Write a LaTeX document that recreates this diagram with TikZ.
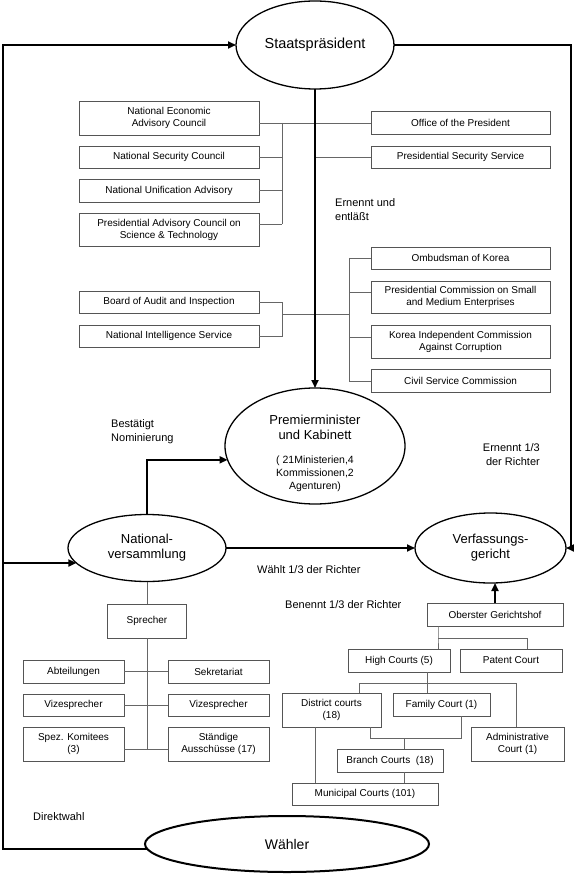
\documentclass[tikz,border=0pt]{standalone}
\usepackage{fontspec}
\setmainfont{Liberation Sans}
\usetikzlibrary{shapes.geometric,arrows.meta}
\definecolor{boxgray}{HTML}{555555}
\definecolor{linegray}{HTML}{666666}
\begin{document}
\begin{tikzpicture}[x=1pt,y=-1pt,
  box/.style={draw=boxgray,line width=0.7pt,align=center,inner sep=0pt,outer sep=0pt,font=\fontsize{10}{12}\selectfont},
  oval/.style={ellipse,draw=black,line width=1.3pt,align=center,inner sep=0pt,outer sep=0pt,font=\fontsize{13}{15}\selectfont},
  conn/.style={draw=linegray,line width=0.7pt},
  mainarrow/.style={draw=black,line width=1.8pt,-{Triangle[length=8pt,width=7pt]}},
  lbl/.style={font=\fontsize{11}{13.5}\selectfont,align=left,inner sep=0pt}
]
\useasboundingbox[fill=white] (0,0) rectangle (573,874);

% ellipses
\node[oval,minimum width=158pt,minimum height=88pt,font=\fontsize{14.5}{17}\selectfont] (sp) at (315,45) {Staatspräsident};
\node[oval,minimum width=180pt,minimum height=116pt] (pm) at (315,446) {};
\node[inner sep=0pt,align=center,font=\fontsize{13}{15}\selectfont] (pmtitle) at (315,427.5) {Premierminister\\und Kabinett};
\node[inner sep=0pt,align=center,font=\fontsize{10.5}{13}\selectfont] (pmsub) at (315,474) {( 21Ministerien,4\\Kommissionen,2\\Agenturen)};
\node[oval,minimum width=158pt,minimum height=67pt] (nat) at (147,548) {National-\\versammlung};
\node[oval,minimum width=151pt,minimum height=70pt] (vg) at (490.5,548) {Verfassungs-\\gericht};
\node[oval,line width=2pt,minimum width=284pt,minimum height=56pt,font=\fontsize{14}{17}\selectfont] (wa) at (287,844) {Wähler};

% left boxes (top)
\node[box,minimum width=180pt,minimum height=34pt] (neac) at (169,118) {National Economic\\Advisory Council};
\node[box,minimum width=180pt,minimum height=22pt] (nsc) at (169,157) {National Security Council};
\node[box,minimum width=180pt,minimum height=23pt] (nua) at (169,190.5) {National Unification Advisory};
\node[box,minimum width=180pt,minimum height=33pt] (pac) at (169,229.5) {Presidential Advisory Council on\\Science \& Technology};
\node[box,minimum width=180pt,minimum height=22pt] (board) at (169,302) {Board of Audit and Inspection};
\node[box,minimum width=180pt,minimum height=22pt] (nis) at (169,336) {National Intelligence Service};

% right boxes (top)
\node[box,minimum width=179pt,minimum height=23pt] (office) at (460.5,123) {Office of the President};
\node[box,minimum width=179pt,minimum height=22pt] (pss) at (460.5,157) {Presidential Security Service};
\node[box,minimum width=179pt,minimum height=22pt] (omb) at (460.5,258) {Ombudsman of Korea};
\node[box,minimum width=179pt,minimum height=32pt] (pcsme) at (460.5,297) {Presidential Commission on Small\\and Medium Enterprises};
\node[box,minimum width=179pt,minimum height=33pt] (kicac) at (460.5,341.5) {Korea Independent Commission\\Against Corruption};
\node[box,minimum width=179pt,minimum height=23pt] (csc) at (460.5,380.5) {Civil Service Commission};

% assembly boxes
\node[box,minimum width=79pt,minimum height=34pt] (spr) at (147,621) {Sprecher};
\node[box,minimum width=101pt,minimum height=23pt] (abt) at (73.5,671.5) {Abteilungen};
\node[box,minimum width=101pt,minimum height=23pt] (sek) at (218.5,671.5) {Sekretariat};
\node[box,minimum width=101pt,minimum height=22pt] (vizl) at (73.5,705) {Vizesprecher};
\node[box,minimum width=101pt,minimum height=22pt] (vizr) at (218.5,705) {Vizesprecher};
\node[box,minimum width=101pt,minimum height=34pt] (spez) at (73.5,744) {Spez. Komitees\\(3)};
\node[box,minimum width=101pt,minimum height=34pt] (staend) at (218.5,744) {Ständige\\Ausschüsse (17)};

% court boxes
\node[box,minimum width=136pt,minimum height=23pt] (og) at (495,614.5) {Oberster Gerichtshof};
\node[box,minimum width=102pt,minimum height=23pt] (hc) at (399,660.5) {High Courts (5)};
\node[box,minimum width=102pt,minimum height=23pt] (pat) at (511,660.5) {Patent Court};
\node[box,minimum width=99pt,minimum height=34pt] (dc) at (331.5,710) {District courts\\(18)};
\node[box,minimum width=97pt,minimum height=23pt] (fc) at (441.5,704.5) {Family Court (1)};
\node[box,minimum width=93pt,minimum height=34pt] (adm) at (517.5,744) {Administrative\\Court (1)};
\node[box,minimum width=106pt,minimum height=23pt] (bc) at (390,760.5) {Branch Courts\ \ (18)};
\node[box,minimum width=146pt,minimum height=22pt] (mc) at (365,794) {Municipal Courts (101)};

% labels
\node[lbl,anchor=west] (l1) at (335,209.5) {Ernennt und\\entläßt};
\node[lbl,anchor=west] (l2) at (111,431.5) {Bestätigt\\Nominierung};
\node[lbl,anchor=east,align=right] (l3) at (540,454.5) {Ernennt 1/3\\der Richter};
\node[lbl,anchor=west] (l4) at (257,570) {Wählt 1/3 der Richter};
\node[lbl,anchor=west] (l5) at (285,605) {Benennt 1/3 der Richter};
\node[lbl,anchor=west] (l6) at (33,817) {Direktwahl};

% helper coordinates
\coordinate (b1) at (282,0);
\coordinate (b1bot) at (282,224);
\coordinate (b2) at (282,314);
\coordinate (b3) at (349,314);
\coordinate (b3top) at (349,258);
\coordinate (b3bot) at (349,381);
\coordinate (s1) at (147,749);
\coordinate (c1) at (438,638);
\coordinate (c2) at (527,638);
\coordinate (c3) at (427,683);
\coordinate (c4) at (359,683);
\coordinate (c5) at (516,683);
\coordinate (c6) at (370,738);
\coordinate (c7) at (461,738);
\coordinate (c8) at (404,738);
\coordinate (c9) at (315,760);
\coordinate (L1) at (3,45);
\coordinate (R1) at (571,45);

% thin connectors, top group
\draw[conn] ([yshift=-5pt]neac.east) -- (office.west);
\draw[conn] ([yshift=-5pt]neac.east -| b1) -- (b1bot);
\draw[conn] (nsc.east) -- (nsc.east -| b1);
\draw[conn] (nua.east) -- (nua.east -| b1);
\draw[conn] ([yshift=5.5pt]pac.east) -- (b1bot);
\draw[conn] (pss.west) -- (pss.west -| sp.south);
\draw[conn] (board.east) -| (b2);
\draw[conn] (nis.east) -| (b2);
\draw[conn] (b2) -- (b3);
\draw[conn] (b3top) -- (b3bot);
\draw[conn] (b3top) -- (omb.west);
\draw[conn] ([yshift=5pt]pcsme.west) -- ([yshift=5pt]pcsme.west -| b3);
\draw[conn] ([yshift=4.5pt]kicac.west) -- ([yshift=4.5pt]kicac.west -| b3);
\draw[conn] (b3bot) -- (b3bot -| csc.west);

% assembly connectors
\draw[conn] (nat.south) -- (spr.north);
\draw[conn] (spr.south) -- (s1);
\draw[conn] (abt.east) -- (sek.west);
\draw[conn] (vizl.east) -- (vizr.west);
\draw[conn] ([yshift=-5pt]spez.east) -- ([yshift=-5pt]staend.west);

% court connectors
\draw[conn] (og.south -| c1) -- (c1) -- (hc.north -| c1);
\draw[conn] (c1) -- (c2) -- (pat.north -| c2);
\draw[conn] (hc.south -| c3) -- (c3);
\draw[conn] (c4) -- (c5);
\draw[conn] (c4) -- (dc.north -| c4);
\draw[conn] (c3) -- (fc.north -| c3);
\draw[conn] (c5) -- (adm.north -| c5);
\draw[conn] (dc.south -| c6) -- (c6) -- (c7) -- (fc.south -| c7);
\draw[conn] (c8) -- (bc.north -| c8);
\draw[conn] (bc.south -| c8) -- (mc.north -| c8);
\draw[conn] (dc.south -| c9) -- (mc.north -| c9);

% thick arrows
\draw[mainarrow] (sp.south) -- (pm.north);
\draw[mainarrow] (wa.182) -- (wa.182 -| L1) -- (L1) -- (sp.west);
\draw[mainarrow] (nat.192 -| L1) -- (nat.192);
\draw[mainarrow] (sp.east) -- (R1) -- (vg.east -| R1) -- (vg.east);
\draw[mainarrow] (nat.east) -- (vg.west);
\draw[mainarrow] (nat.north) |- (pm.189);
\draw[mainarrow] (og.north) -- (og.north |- vg.south);
\end{tikzpicture}
\end{document}
